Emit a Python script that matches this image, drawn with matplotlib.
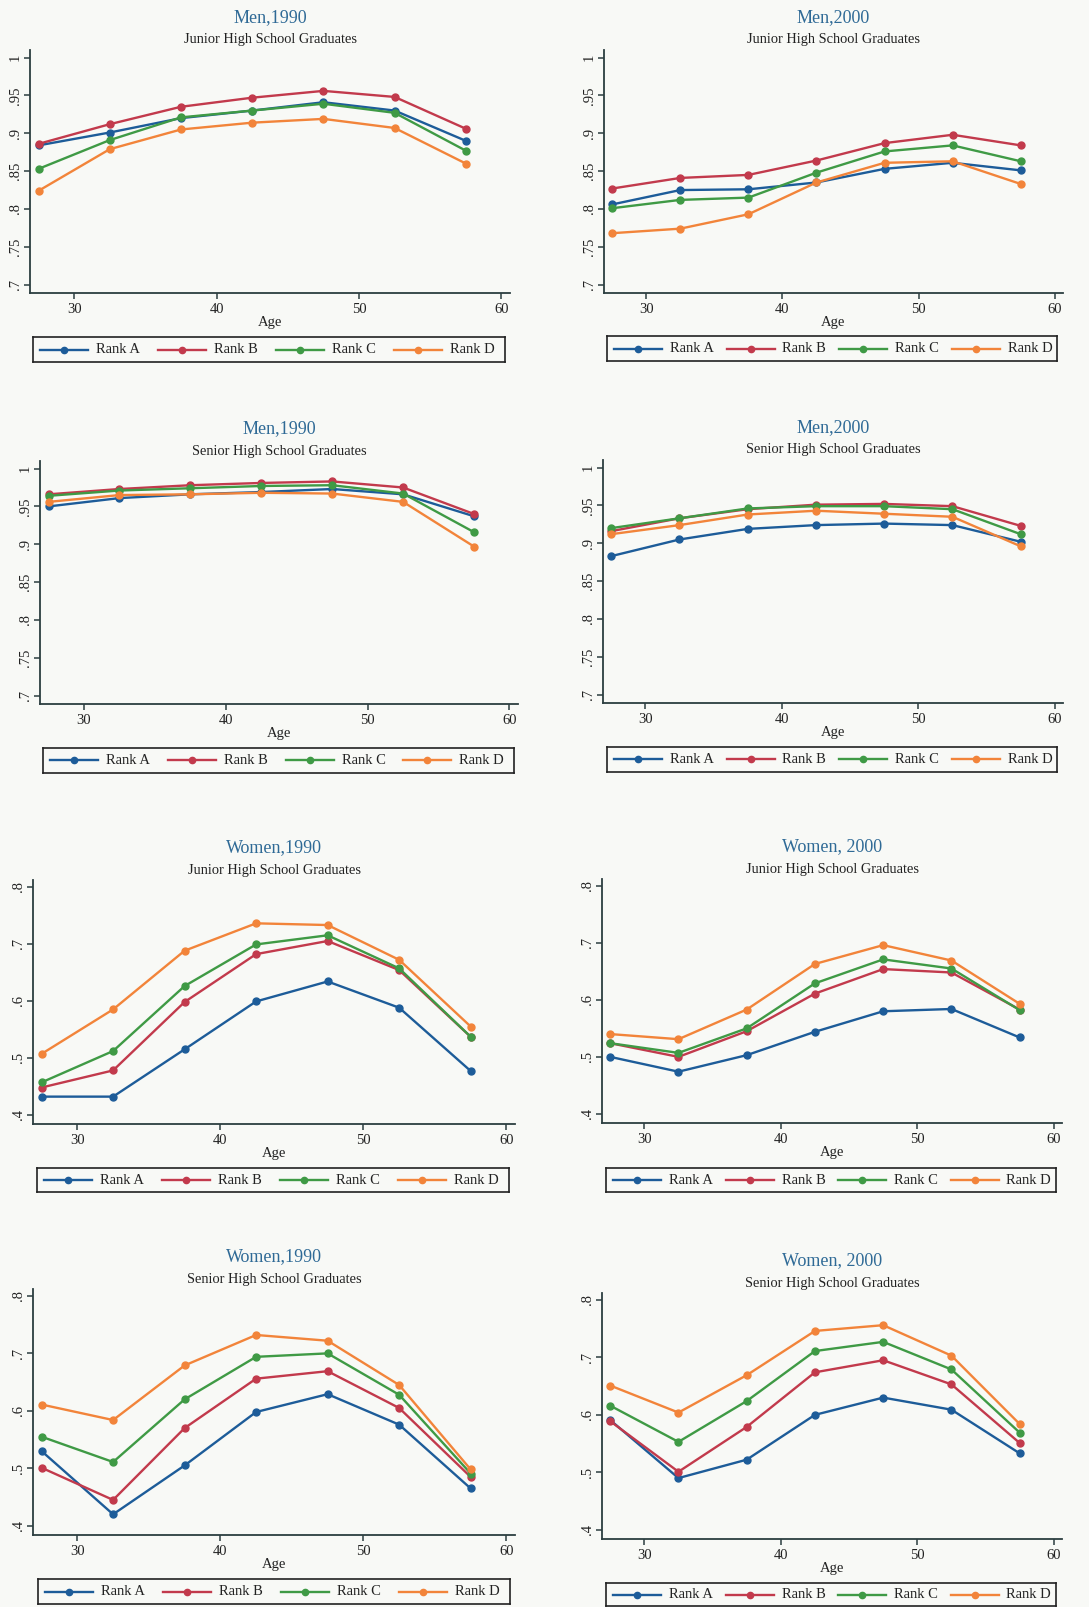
import matplotlib
matplotlib.use("Agg")
import matplotlib.pyplot as plt
from matplotlib.ticker import FixedLocator, FuncFormatter

plt.rcParams['font.family'] = ['Liberation Serif', 'DejaVu Serif']

W, H = 1089, 1607

# Age group midpoints
age = [27.5, 32.5, 37.5, 42.5, 47.5, 52.5, 57.5]
ranks = ["Rank A", "Rank B", "Rank C", "Rank D"]

# Men, 1990, junior high school graduates
m90j_a = [0.884, 0.901, 0.920, 0.930, 0.941, 0.930, 0.890]
m90j_b = [0.886, 0.912, 0.935, 0.947, 0.956, 0.948, 0.906]
m90j_c = [0.853, 0.891, 0.921, 0.930, 0.939, 0.927, 0.877]
m90j_d = [0.824, 0.879, 0.905, 0.914, 0.919, 0.907, 0.860]

# Men, 2000, junior high school graduates
m00j_a = [0.806, 0.825, 0.826, 0.835, 0.853, 0.861, 0.851]
m00j_b = [0.827, 0.841, 0.845, 0.864, 0.887, 0.898, 0.884]
m00j_c = [0.801, 0.812, 0.815, 0.848, 0.876, 0.884, 0.863]
m00j_d = [0.768, 0.774, 0.793, 0.835, 0.861, 0.863, 0.833]

# Men, 1990, senior high school graduates
m90s_a = [0.950, 0.961, 0.966, 0.969, 0.973, 0.966, 0.937]
m90s_b = [0.966, 0.973, 0.978, 0.981, 0.983, 0.975, 0.940]
m90s_c = [0.964, 0.971, 0.974, 0.977, 0.978, 0.967, 0.916]
m90s_d = [0.956, 0.965, 0.966, 0.968, 0.967, 0.956, 0.897]

# Men, 2000, senior high school graduates
m00s_a = [0.883, 0.905, 0.919, 0.924, 0.926, 0.924, 0.902]
m00s_b = [0.916, 0.933, 0.945, 0.951, 0.952, 0.949, 0.923]
m00s_c = [0.920, 0.933, 0.946, 0.949, 0.949, 0.945, 0.912]
m00s_d = [0.912, 0.924, 0.938, 0.943, 0.939, 0.935, 0.896]

# Women, 1990, junior high school graduates
w90j_a = [0.432, 0.432, 0.515, 0.599, 0.634, 0.588, 0.477]
w90j_b = [0.448, 0.478, 0.598, 0.682, 0.705, 0.654, 0.537]
w90j_c = [0.457, 0.512, 0.626, 0.699, 0.715, 0.657, 0.537]
w90j_d = [0.507, 0.585, 0.688, 0.736, 0.733, 0.672, 0.555]

# Women, 2000, junior high school graduates
w00j_a = [0.500, 0.474, 0.503, 0.544, 0.580, 0.584, 0.534]
w00j_b = [0.524, 0.500, 0.545, 0.611, 0.654, 0.648, 0.583]
w00j_c = [0.524, 0.507, 0.550, 0.629, 0.671, 0.655, 0.582]
w00j_d = [0.540, 0.531, 0.583, 0.663, 0.696, 0.669, 0.593]

# Women, 1990, senior high school graduates
w90s_a = [0.530, 0.420, 0.505, 0.598, 0.629, 0.576, 0.465]
w90s_b = [0.501, 0.445, 0.570, 0.656, 0.669, 0.605, 0.485]
w90s_c = [0.555, 0.511, 0.620, 0.694, 0.700, 0.628, 0.491]
w90s_d = [0.611, 0.584, 0.679, 0.732, 0.722, 0.645, 0.498]

# Women, 2000, senior high school graduates
w00s_a = [0.591, 0.490, 0.522, 0.600, 0.630, 0.609, 0.533]
w00s_b = [0.589, 0.501, 0.579, 0.674, 0.695, 0.653, 0.551]
w00s_c = [0.616, 0.553, 0.624, 0.711, 0.727, 0.679, 0.569]
w00s_d = [0.651, 0.604, 0.669, 0.746, 0.756, 0.703, 0.584]

men_ticks = [0.7, 0.75, 0.8, 0.85, 0.9, 0.95, 1.0]
women_ticks = [0.4, 0.5, 0.6, 0.7, 0.8]
x_ticks = [30, 40, 50, 60]

colors = ["#1d5c99", "#c23a4c", "#3f9a45", "#f2843a"]
axis_color = "#2c3e40"
title_color = "#2f6a96"
text_color = "#222222"
bg = "#f8f9f6"

# (title, subtitle, series, yticks, ylim, axes box px (l, r, t, b), legend box px (l, r, t, b))
panels = [
    ("Men,1990", "Junior High School Graduates", [m90j_a, m90j_b, m90j_c, m90j_d],
     men_ticks, (0.689, 1.010), (30, 510, 50, 293), (33, 505, 337, 362)),
    ("Men,2000", "Junior High School Graduates", [m00j_a, m00j_b, m00j_c, m00j_d],
     men_ticks, (0.689, 1.010), (604, 1063, 50, 293), (607, 1057, 336, 361)),
    ("Men,1990", "Senior High School Graduates", [m90s_a, m90s_b, m90s_c, m90s_d],
     men_ticks, (0.689, 1.010), (40, 518, 461, 704), (43, 514, 748, 773)),
    ("Men,2000", "Senior High School Graduates", [m00s_a, m00s_b, m00s_c, m00s_d],
     men_ticks, (0.689, 1.010), (603, 1063, 460, 703), (607, 1057, 747, 772)),
    ("Women,1990", "Junior High School Graduates", [w90j_a, w90j_b, w90j_c, w90j_d],
     women_ticks, (0.384, 0.812), (33, 515, 880, 1124), (37, 509, 1168, 1192)),
    ("Women, 2000", "Junior High School Graduates", [w00j_a, w00j_b, w00j_c, w00j_d],
     women_ticks, (0.384, 0.812), (602, 1062, 879, 1123), (606, 1056, 1168, 1192)),
    ("Women,1990", "Senior High School Graduates", [w90s_a, w90s_b, w90s_c, w90s_d],
     women_ticks, (0.384, 0.812), (33, 515, 1289, 1535), (38, 510, 1579, 1604)),
    ("Women, 2000", "Senior High School Graduates", [w00s_a, w00s_b, w00s_c, w00s_d],
     women_ticks, (0.384, 0.812), (602, 1062, 1293, 1539), (606, 1056, 1583, 1606)),
]


def fmt_share(v, _pos):
    s = f"{v:.2f}".rstrip("0").rstrip(".")
    if s.startswith("0"):
        s = s[1:]
    return s


def px_box(l, r, t, b):
    return [l / W, 1 - b / H, (r - l) / W, (b - t) / H]


def draw_key(box):
    """Boxed one-row key below a panel, laid out in pixel units."""
    l, r, t, b = box
    kax = fig.add_axes(px_box(l, r, t, b))
    kax.set_xlim(0, r - l)
    kax.set_ylim(0, b - t)
    kax.set_xticks([])
    kax.set_yticks([])
    kax.set_facecolor(bg)
    for sp in kax.spines.values():
        sp.set_color(text_color)
        sp.set_linewidth(1.2)
    col_w = (r - l) / len(ranks)
    yc = (b - t) / 2
    for i, (name, c) in enumerate(zip(ranks, colors)):
        x0 = i * col_w + 7
        x1 = x0 + 48
        kax.plot([x0, x1], [yc, yc], color=c, lw=1.7)
        kax.plot([(x0 + x1) / 2], [yc], color=c, marker="o", ms=4.5)
        kax.text(x1 + 8, yc, name, ha="left", va="center",
                 fontsize=10.5, color=text_color)


fig = plt.figure(figsize=(W / 100, H / 100), dpi=100)
fig.patch.set_facecolor(bg)

for title, subtitle, series, yt, ylim, box, lbox in panels:
    l, r, t, b = box
    ax = fig.add_axes(px_box(l, r, t, b))
    ax.set_facecolor(bg)
    for vals, c in zip(series, colors):
        ax.plot(age, vals, color=c, lw=1.7, marker="o", ms=5, mec=c, mfc=c)
    ax.set_xlim(26.9, 60.6)
    ax.set_ylim(*ylim)
    ax.xaxis.set_major_locator(FixedLocator(x_ticks))
    ax.yaxis.set_major_locator(FixedLocator(yt))
    ax.yaxis.set_major_formatter(FuncFormatter(fmt_share))
    for side in ("top", "right"):
        ax.spines[side].set_visible(False)
    for side in ("left", "bottom"):
        ax.spines[side].set_color(axis_color)
        ax.spines[side].set_linewidth(1.3)
    ax.tick_params(axis="both", colors=axis_color, length=4, width=1.1,
                   labelsize=10.5, labelcolor=text_color, direction="out")
    ax.tick_params(axis="y", pad=2)
    ax.tick_params(axis="x", pad=3)
    for lab in ax.get_yticklabels():
        lab.set_rotation(90)
        lab.set_va("center")
    ax.set_xlabel("Age", fontsize=10.5, color=text_color, labelpad=0)

    cx = (l + r) / 2 / W
    fig.text(cx, 1 - (t - 32) / H, title, ha="center", va="center",
             fontsize=13, color=title_color)
    fig.text(cx, 1 - (t - 10) / H, subtitle, ha="center", va="center",
             fontsize=10.4, color=text_color)

    draw_key(lbox)

fig.savefig("out.png", dpi=100, facecolor=bg)
